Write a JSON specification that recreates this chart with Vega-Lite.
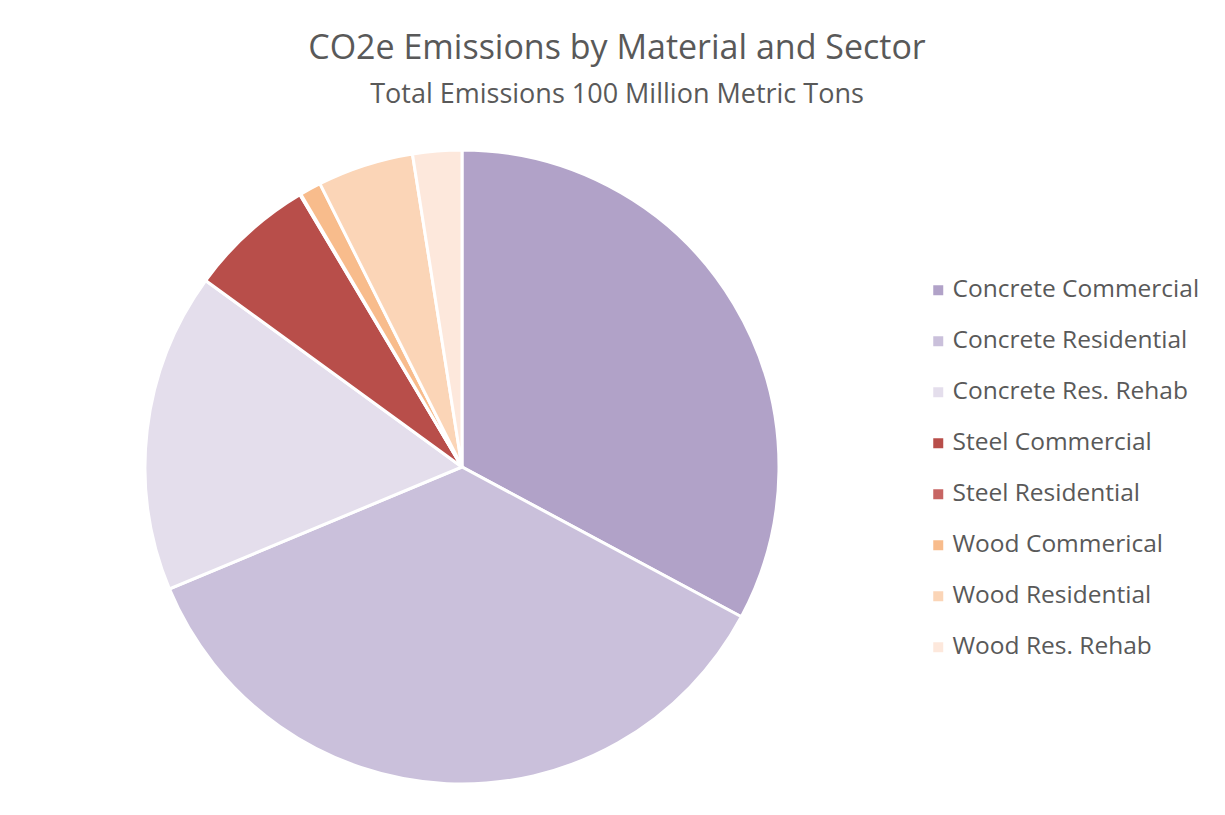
{
  "$schema": "https://vega.github.io/schema/vega-lite/v6.json",
  "autosize": {"type": "none"},
  "padding": {"left": 0, "top": 120, "right": 301, "bottom": 1},
  "width": 924,
  "height": 694,
  "background": "white",
  "title": {
    "text": "CO2e Emissions by Material and Sector",
    "subtitle": "Total Emissions 100 Million Metric Tons",
    "anchor": "middle",
    "dx": 155,
    "offset": 12,
    "font": "Open Sans",
    "fontSize": 34,
    "fontWeight": "normal",
    "color": "#595959",
    "subtitleFont": "Open Sans",
    "subtitleFontSize": 27,
    "subtitleColor": "#595959",
    "subtitlePadding": 16
  },
  "data": {
    "values": [
      {"idx": 1, "category": "Concrete Commercial", "emissions": 32.85},
      {"idx": 2, "category": "Concrete Residential", "emissions": 35.9},
      {"idx": 3, "category": "Concrete Res. Rehab", "emissions": 16.3},
      {"idx": 4, "category": "Steel Commercial", "emissions": 6.45},
      {"idx": 5, "category": "Steel Residential", "emissions": 0.05},
      {"idx": 6, "category": "Wood Commerical", "emissions": 1.1},
      {"idx": 7, "category": "Wood Residential", "emissions": 4.9},
      {"idx": 8, "category": "Wood Res. Rehab", "emissions": 2.5}
    ]
  },
  "mark": {"type": "arc", "outerRadius": 317, "stroke": "white", "strokeWidth": 3},
  "encoding": {
    "theta": {"field": "emissions", "type": "quantitative", "stack": true},
    "order": {"field": "idx", "type": "quantitative", "sort": "ascending"},
    "color": {
      "field": "category",
      "type": "nominal",
      "sort": ["Concrete Commercial", "Concrete Residential", "Concrete Res. Rehab", "Steel Commercial", "Steel Residential", "Wood Commerical", "Wood Residential", "Wood Res. Rehab"],
      "scale": {
        "domain": ["Concrete Commercial", "Concrete Residential", "Concrete Res. Rehab", "Steel Commercial", "Steel Residential", "Wood Commerical", "Wood Residential", "Wood Res. Rehab"],
        "range": ["#B1A2C8", "#CAC0DB", "#E4DEEC", "#B84E4A", "#C76563", "#F8BC8C", "#FBD5B7", "#FDE8DC"]
      },
      "legend": {
        "title": null,
        "orient": "none",
        "legendX": 926,
        "legendY": 158,
        "symbolType": "square",
        "symbolSize": 100,
        "symbolStrokeWidth": 0,
        "labelFont": "Open Sans",
        "labelFontSize": 24.5,
        "labelColor": "#595959",
        "labelOffset": 2,
        "rowPadding": 26,
        "labelLimit": 400
      }
    }
  },
  "config": {"view": {"stroke": null}}
}
